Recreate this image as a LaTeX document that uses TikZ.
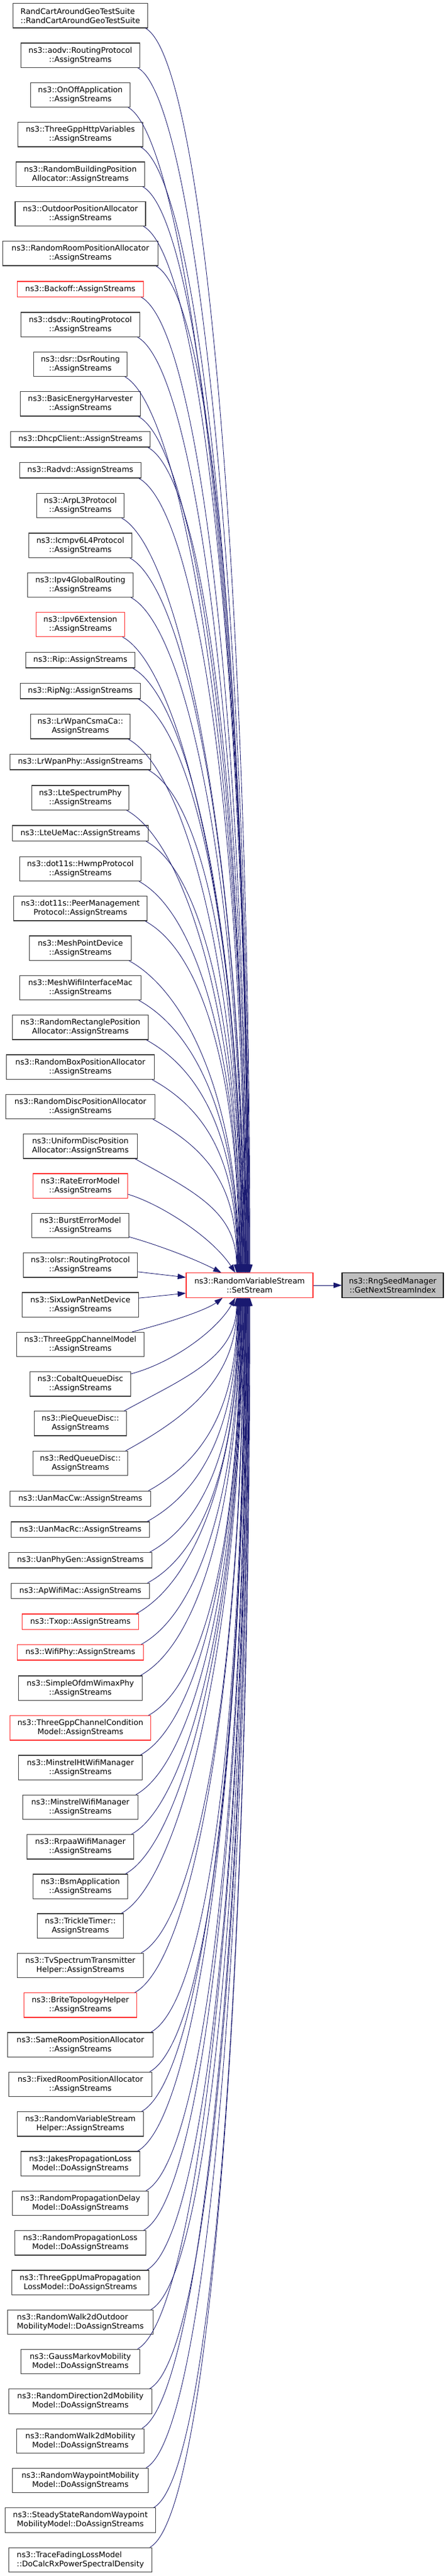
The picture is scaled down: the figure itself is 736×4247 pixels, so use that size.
\documentclass[tikz,border=0pt]{standalone}
\usepackage{fontspec}
\setmainfont{DejaVu Sans}
\usetikzlibrary{arrows.meta,calc}
\definecolor{edgeblue}{HTML}{191970}
\definecolor{nodered}{RGB}{255,50,50}
\definecolor{nodegray}{HTML}{404040}
\definecolor{curfill}{HTML}{BFBFBF}
\newcommand\mkleft[6]{%
  \ifnum#2=2 \def\hh{40.3pt}\else\def\hh{25.3pt}\fi
  \pgfmathsetmacro\yc{#3+\hh/2}%
  \node[lbox,#5,minimum width=#4pt,minimum height=\hh] (#1) at (132.5,\yc) {#6};%
}
\newcommand\upedge[2]{%
  \coordinate (s) at ($(#1.south east)+(-4,0)$);
  \coordinate (e) at (m.north -| #2,0);
  \coordinate (q) at ($(s)!0.47!(e)$);
  \draw[conn] (s) .. controls ($(s)+(100,55)$) and (e |- q) .. (e);
}
\newcommand\downedge[2]{%
  \coordinate (s) at ($(#1.north east)+(-4,0)$);
  \coordinate (e) at (m.south -| #2,0);
  \coordinate (q) at ($(s)!0.47!(e)$);
  \draw[conn] (s) .. controls ($(s)+(100,-55)$) and (e |- q) .. (e);
}
\begin{document}
\begin{tikzpicture}[x=1pt,y=-1pt,
  lbox/.style={draw=nodegray,line width=1.1pt,fill=white,align=center,inner xsep=1pt,inner ysep=1pt,font=\fontsize{12.75}{15}\selectfont},
  redb/.style={draw=nodered},
  conn/.style={draw=edgeblue,line width=0.85pt,-{Triangle[length=13.5pt,width=9pt]}}]
\fill[white] (0,0) rectangle (736,4247);
\useasboundingbox (0,0) rectangle (736,4247);
\node[lbox,redb,minimum width=209pt,minimum height=40.3pt] (m) at (411.5,2119) {ns3::RandomVariableStream\\::SetStream};
\node[lbox,draw=black,fill=curfill,minimum width=167pt,minimum height=40.3pt] (r) at (647.5,2119) {ns3::RngSeedManager\\::GetNextStreamIndex};
\mkleft{n1}{2}{5.7}{221.7}{align=left}{RandCartAroundGeoTestSuite\\::RandCartAroundGeoTestSuite}
\mkleft{n2}{2}{71}{196.3}{}{ns3::aodv::RoutingProtocol\\::AssignStreams}
\mkleft{n3}{2}{136.3}{164.7}{}{ns3::OnOffApplication\\::AssignStreams}
\mkleft{n4}{2}{201.7}{206}{}{ns3::ThreeGppHttpVariables\\::AssignStreams}
\mkleft{n5}{2}{267}{212.7}{}{ns3::RandomBuildingPosition\\Allocator::AssignStreams}
\mkleft{n6}{2}{332.3}{215}{}{ns3::OutdoorPositionAllocator\\::AssignStreams}
\mkleft{n7}{2}{397.7}{256}{}{ns3::RandomRoomPositionAllocator\\::AssignStreams}
\mkleft{n8}{1}{464}{207.3}{redb}{ns3::Backoff::AssignStreams}
\mkleft{n9}{2}{515}{195.3}{}{ns3::dsdv::RoutingProtocol\\::AssignStreams}
\mkleft{n10}{2}{580.3}{153.7}{}{ns3::dsr::DsrRouting\\::AssignStreams}
\mkleft{n11}{2}{645.7}{198}{}{ns3::BasicEnergyHarvester\\::AssignStreams}
\mkleft{n12}{1}{711.7}{229.7}{}{ns3::DhcpClient::AssignStreams}
\mkleft{n13}{1}{762.7}{199.7}{}{ns3::Radvd::AssignStreams}
\mkleft{n14}{2}{813.3}{143.3}{}{ns3::ArpL3Protocol\\::AssignStreams}
\mkleft{n15}{2}{879}{170}{}{ns3::Icmpv6L4Protocol\\::AssignStreams}
\mkleft{n16}{2}{944.3}{174}{}{ns3::Ipv4GlobalRouting\\::AssignStreams}
\mkleft{n17}{2}{1009.3}{146}{redb}{ns3::Ipv6Extension\\::AssignStreams}
\mkleft{n18}{1}{1075.7}{179.3}{}{ns3::Rip::AssignStreams}
\mkleft{n19}{1}{1126.7}{198}{}{ns3::RipNg::AssignStreams}
\mkleft{n20}{2}{1177.7}{164.7}{}{ns3::LrWpanCsmaCa::\\AssignStreams}
\mkleft{n21}{1}{1243.7}{231.3}{}{ns3::LrWpanPhy::AssignStreams}
\mkleft{n22}{2}{1295}{159.3}{}{ns3::LteSpectrumPhy\\::AssignStreams}
\mkleft{n23}{1}{1361}{223.3}{}{ns3::LteUeMac::AssignStreams}
\mkleft{n24}{2}{1412.3}{200.7}{}{ns3::dot11s::HwmpProtocol\\::AssignStreams}
\mkleft{n25}{2}{1477.7}{220.7}{}{ns3::dot11s::PeerManagement\\Protocol::AssignStreams}
\mkleft{n26}{2}{1543}{167.3}{}{ns3::MeshPointDevice\\::AssignStreams}
\mkleft{n27}{2}{1608.3}{199.3}{}{ns3::MeshWifiInterfaceMac\\::AssignStreams}
\mkleft{n28}{2}{1673.7}{224.7}{}{ns3::RandomRectanglePosition\\Allocator::AssignStreams}
\mkleft{n29}{2}{1739}{243.3}{}{ns3::RandomBoxPositionAllocator\\::AssignStreams}
\mkleft{n30}{2}{1804.3}{246}{}{ns3::RandomDiscPositionAllocator\\::AssignStreams}
\mkleft{n31}{2}{1869.7}{187.3}{}{ns3::UniformDiscPosition\\Allocator::AssignStreams}
\mkleft{n32}{2}{1935}{155.3}{redb}{ns3::RateErrorModel\\::AssignStreams}
\mkleft{n33}{2}{2000.3}{159.3}{}{ns3::BurstErrorModel\\::AssignStreams}
\mkleft{n34}{2}{2065.7}{188.7}{}{ns3::olsr::RoutingProtocol\\::AssignStreams}
\mkleft{n35}{2}{2131}{191.3}{}{ns3::SixLowPanNetDevice\\::AssignStreams}
\mkleft{n36}{2}{2196.3}{210}{}{ns3::ThreeGppChannelModel\\::AssignStreams}
\mkleft{n37}{2}{2261.7}{165.3}{}{ns3::CobaltQueueDisc\\::AssignStreams}
\mkleft{n38}{2}{2326.7}{151.3}{}{ns3::PieQueueDisc::\\AssignStreams}
\mkleft{n39}{2}{2392.3}{156.7}{}{ns3::RedQueueDisc::\\AssignStreams}
\mkleft{n40}{1}{2458.3}{231.3}{}{ns3::UanMacCw::AssignStreams}
\mkleft{n41}{1}{2509}{227.3}{}{ns3::UanMacRc::AssignStreams}
\mkleft{n42}{1}{2559.7}{235.3}{}{ns3::UanPhyGen::AssignStreams}
\mkleft{n43}{1}{2610.3}{228.7}{}{ns3::ApWifiMac::AssignStreams}
\mkleft{n44}{1}{2661}{191.3}{redb}{ns3::Txop::AssignStreams}
\mkleft{n45}{1}{2711.7}{207.3}{redb}{ns3::WifiPhy::AssignStreams}
\mkleft{n46}{2}{2763}{204.7}{}{ns3::SimpleOfdmWimaxPhy\\::AssignStreams}
\mkleft{n47}{2}{2828.7}{231.3}{redb}{ns3::ThreeGppChannelCondition\\Model::AssignStreams}
\mkleft{n48}{2}{2894}{204.7}{}{ns3::MinstrelHtWifiManager\\::AssignStreams}
\mkleft{n49}{2}{2959.3}{190}{}{ns3::MinstrelWifiManager\\::AssignStreams}
\mkleft{n50}{2}{3024.7}{175.3}{}{ns3::RrpaaWifiManager\\::AssignStreams}
\mkleft{n51}{2}{3090}{155.3}{}{ns3::BsmApplication\\::AssignStreams}
\mkleft{n52}{2}{3155}{142}{}{ns3::TrickleTimer::\\AssignStreams}
\mkleft{n53}{2}{3220.3}{207.3}{}{ns3::TvSpectrumTransmitter\\Helper::AssignStreams}
\mkleft{n54}{2}{3285.7}{186}{redb}{ns3::BriteTopologyHelper\\::AssignStreams}
\mkleft{n55}{2}{3351}{239.3}{}{ns3::SameRoomPositionAllocator\\::AssignStreams}
\mkleft{n56}{2}{3416.3}{235.3}{}{ns3::FixedRoomPositionAllocator\\::AssignStreams}
\mkleft{n57}{2}{3481.7}{208.7}{}{ns3::RandomVariableStream\\Helper::AssignStreams}
\mkleft{n58}{2}{3547}{195.3}{}{ns3::JakesPropagationLoss\\Model::DoAssignStreams}
\mkleft{n59}{2}{3612.3}{223.3}{}{ns3::RandomPropagationDelay\\Model::DoAssignStreams}
\mkleft{n60}{2}{3677.7}{215.3}{}{ns3::RandomPropagationLoss\\Model::DoAssignStreams}
\mkleft{n61}{2}{3743}{226}{}{ns3::ThreeGppUmaPropagation\\LossModel::DoAssignStreams}
\mkleft{n62}{2}{3808.3}{239.3}{align=left}{ns3::RandomWalk2dOutdoor\\MobilityModel::DoAssignStreams}
\mkleft{n63}{2}{3873.3}{195.3}{}{ns3::GaussMarkovMobility\\Model::DoAssignStreams}
\mkleft{n64}{2}{3938.7}{235.3}{}{ns3::RandomDirection2dMobility\\Model::DoAssignStreams}
\mkleft{n65}{2}{4004}{210}{}{ns3::RandomWalk2dMobility\\Model::DoAssignStreams}
\mkleft{n66}{2}{4069.3}{223.3}{}{ns3::RandomWaypointMobility\\Model::DoAssignStreams}
\mkleft{n67}{2}{4134.7}{248.7}{}{ns3::SteadyStateRandomWaypoint\\MobilityModel::DoAssignStreams}
\mkleft{n68}{2}{4200}{236.7}{align=left}{ns3::TraceFadingLossModel\\::DoCalcRxPowerSpectralDensity}
% edges from the upper callers
\foreach \i in {1,...,31} {
  \pgfmathsetmacro\xe{412-(\i-1)*0.733}
  \upedge{n\i}{\xe}
}
% edges from the lower callers
\foreach \i in {38,...,68} {
  \pgfmathsetmacro\xe{390+(\i-38)*0.733}
  \downedge{n\i}{\xe}
}
% edges from the nearby callers
\draw[conn] ($(n32.south east)+(0,-7)$) .. controls (265,1985) and (350,2040) .. (m.north -| 388,0);
\draw[conn] ($(n33.south east)+(0,-2)$) .. controls (262,2053) and (322,2076) .. (m.north -| 365,0);
\draw[conn] ($(n34.east)+(0,11)$) -- ($(m.west)+(0,-13)$);
\draw[conn] ($(n35.east)+(0,-11)$) -- ($(m.west)+(0,13)$);
\draw[conn] ($(n36.north east)+(-20,0)$) .. controls (280,2180) and (340,2160) .. (m.south -| 367,0);
\draw[conn] ($(n37.north east)+(0,4)$) .. controls (290,2245) and (360,2190) .. (m.south -| 388,0);
\draw[conn] (m) -- (r);
\end{tikzpicture}
\end{document}
